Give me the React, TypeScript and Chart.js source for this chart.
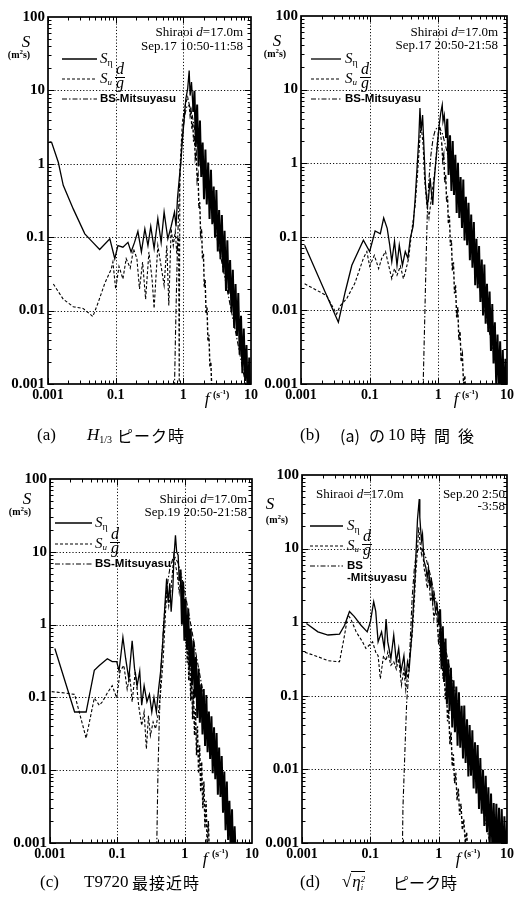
import React, { useEffect, useRef } from 'react';
import { Chart, registerables } from 'chart.js';
Chart.register(...registerables);

type P = [number, number];

// ---------- axes ----------
const X_MIN = 0.01, X_MAX = 10, Y_MIN = 0.001, Y_MAX = 100;
// tick texts as printed in the original figure (first decade is labelled "0.001")
const X_TICK_TEXT = ['0.001', '0.1', '1', '10'];
const Y_TICK_TEXT = ['0.001', '0.01', '0.1', '1', '10', '100'];
const X_GRID = [0.1, 1];
const Y_GRID = [0.01, 0.1, 1, 10];

// ---------- (a) Sep.17 10:50-11:58 ----------
const A_ETA: P[] = [[0.0105,2.0],[0.0113,1.97],[0.0142,1.05],[0.0168,0.51],[0.0236,0.243],[0.035,0.111],[0.046,0.085],[0.058,0.068],[0.082,0.095],[0.097,0.051],[0.108,0.077],[0.128,0.073],[0.152,0.085],[0.169,0.063],[0.19,0.085],[0.213,0.12],[0.24,0.063],[0.27,0.13],[0.30,0.077],[0.33,0.14],[0.37,0.07],[0.42,0.18],[0.47,0.085],[0.52,0.22],[0.59,0.095],[0.66,0.14],[0.74,0.22],[0.78,0.14],[0.82,0.34],[0.87,0.62],[0.92,1.05],[0.97,2.2],[1.03,4.1],[1.09,7.7],[1.16,10.6],[1.22,18.6],[1.26,8.5],[1.32,13],[1.40,5.1],
[1.46,9.9],[1.53,1.7],[1.60,6.4],[1.68,0.92],[1.76,3.9],[1.84,0.66],[1.93,1.95],[2.02,0.33],[2.12,1.56],[2.22,0.28],[2.33,1.04],[2.44,0.177],[2.56,0.83],[2.68,0.15],[2.81,0.49],[2.94,0.099],[3.08,0.44],[3.23,0.064],[3.38,0.234],[3.54,0.05],[3.71,0.2],[3.89,0.033],[4.07,0.122],[4.27,0.0185],[4.47,0.091],[4.68,0.017],[4.91,0.049],[5.14,0.0095],[5.39,0.036],[5.64,0.0058],[5.91,0.023],[6.19,0.0045],[6.49,0.0173],[6.80,0.0025],[7.12,0.0085],[7.46,0.0014],[7.82,0.0057],[8.19,0.0011],[8.58,0.0034],[8.99,0.00054],[9.42,0.0023],[9.87,0.0004]];
const A_SU: P[] = [[0.012,0.023],[0.0168,0.0143],[0.0236,0.0113],[0.033,0.0107],[0.046,0.0083],[0.055,0.0128],[0.069,0.0235],[0.086,0.0368],[0.091,0.046],[0.1,0.0197],[0.112,0.04],[0.128,0.027],[0.143,0.051],[0.164,0.038],[0.184,0.069],[0.206,0.051],[0.225,0.0197],[0.25,0.046],[0.277,0.0143],[0.31,0.063],[0.345,0.027],[0.37,0.0107],[0.42,0.077],[0.47,0.04],[0.52,0.022],[0.57,0.077],[0.61,0.0117],[0.66,0.13],[0.71,0.077],[0.76,0.12],[0.80,0.06],[0.85,0.1],[0.87,0.0009],[0.89,0.8],[0.93,1.8],[0.97,3.7],[1.06,6.2],[1.16,8.1],[1.22,6.5],[1.26,4.6],[1.30,5.2],[1.34,3.0],[1.38,3.6],[1.42,2.0],[1.46,2.4],[1.50,1.2],[1.55,1.4],[1.60,0.6],[1.65,0.7],[1.70,0.25],[1.75,0.3],[1.80,0.11],[1.86,0.13],[1.92,0.05],[1.98,0.06],[2.04,0.021],[2.10,0.026],[2.17,0.009],[2.24,0.011],[2.31,0.0038],[2.39,0.0047],[2.47,0.0017],[2.55,0.002],[2.64,0.0008],[2.74,0.0009],[2.85,0.0004]];
const A_BS: P[] = [[0.74,0.0009],[0.77,0.006],[0.80,0.03],[0.83,0.11],[0.86,0.3],[0.90,0.8],[0.95,1.8],[1.0,3.2],[1.06,4.8],[1.12,5.9],[1.18,6.3],[1.25,6.0],[1.35,4.6],[1.5,2.7],[1.75,1.3],[2.0,0.75],[2.5,0.28],[3.0,0.12],[4.0,0.032],[5.0,0.011],[6.0,0.0048],[7.0,0.0023],[8.0,0.0012],[9.0,0.0007]];

// ---------- (b) Sep.17 20:50-21:58 ----------
const B_ETA: P[] = [[0.0113,0.077],[0.035,0.0069],[0.044,0.0178],[0.055,0.041],[0.081,0.09],[0.1,0.063],[0.12,0.12],[0.143,0.11],[0.16,0.18],[0.18,0.13],[0.196,0.077],[0.21,0.046],[0.23,0.087],[0.25,0.041],[0.27,0.077],[0.30,0.041],[0.33,0.063],[0.36,0.051],[0.39,0.095],[0.43,0.14],[0.46,0.33],[0.49,0.86],[0.52,2.2],[0.54,5.6],[0.56,2.7],[0.59,4.5],[0.62,1.45],[0.65,0.51],[0.69,0.27],[0.72,0.33],[0.76,0.63],[0.79,0.41],[0.83,0.27],[0.86,0.51],[0.91,0.95],[0.97,1.8],[1.03,3.3],[1.09,5.0],[1.14,6.2],[1.17,3.7],[1.22,4.5],[1.29,2.2],
[1.35,4.0],[1.41,0.69],[1.48,2.4],[1.55,0.42],[1.62,2.0],[1.69,0.37],[1.77,1.3],[1.85,0.21],[1.93,1.01],[2.02,0.18],[2.11,0.65],[2.21,0.132],[2.31,0.6],[2.41,0.089],[2.52,0.35],[2.63,0.077],[2.75,0.29],[2.88,0.048],[3.01,0.2],[3.14,0.038],[3.29,0.159],[3.44,0.022],[3.59,0.094],[3.75,0.02],[3.92,0.075],[4.10,0.013],[4.29,0.049],[4.48,0.0085],[4.68,0.042],[4.89,0.0066],[5.11,0.023],[5.34,0.0051],[5.58,0.018],[5.84,0.0028],[6.10,0.0122],[6.37,0.0019],[6.66,0.0069],[6.96,0.001],[7.28,0.0047],[7.60,0.00085],[7.95,0.0038],[8.31,0.00057],[8.68,0.0029],[9.07,0.00048],[9.48,0.0022],[9.91,0.00042]];
const B_SU: P[] = [[0.0113,0.023],[0.0236,0.0159],[0.033,0.0089],[0.037,0.0115],[0.046,0.0143],[0.061,0.0235],[0.081,0.051],[0.091,0.063],[0.1,0.04],[0.117,0.056],[0.135,0.037],[0.15,0.051],[0.17,0.063],[0.19,0.04],[0.21,0.027],[0.23,0.037],[0.25,0.03],[0.28,0.04],[0.31,0.027],[0.33,0.033],[0.37,0.051],[0.41,0.12],[0.46,0.27],[0.50,0.77],[0.54,2.2],[0.56,3.3],[0.60,1.8],[0.63,0.63],[0.68,0.27],[0.73,0.18],[0.79,0.33],[0.84,0.51],[0.90,0.86],[0.95,1.6],[1.0,2.6],[1.05,3.2],[1.08,2.4],[1.12,1.9],[1.16,1.1],[1.20,1.3],[1.24,0.55],[1.28,0.7],[1.32,0.3],[1.36,0.36],[1.40,0.15],[1.45,0.19],[1.50,0.075],[1.55,0.09],[1.60,0.035],[1.66,0.045],[1.72,0.017],[1.78,0.022],[1.85,0.008],[1.92,0.011],[1.99,0.004],[2.07,0.0052],[2.15,0.002],[2.24,0.0025],[2.33,0.001],[2.43,0.0013],[2.53,0.0006]];
const B_BS: P[] = [[0.60,0.0009],[0.63,0.006],[0.66,0.04],[0.69,0.2],[0.73,0.6],[0.78,1.3],[0.84,2.2],[0.90,2.8],[0.97,3.1],[1.05,3.0],[1.15,2.5],[1.3,1.6],[1.5,0.9],[2.0,0.35],[3.0,0.07],[4.0,0.02],[5.0,0.008],[6.0,0.0035],[7.0,0.0018],[8.0,0.001],[9.0,0.0006]];

// ---------- (c) Sep.19 20:50-21:58 ----------
const C_ETA: P[] = [[0.0118,0.47],[0.0232,0.063],[0.0344,0.063],[0.0455,0.236],[0.054,0.275],[0.071,0.34],[0.084,0.31],[0.098,0.31],[0.106,0.23],[0.121,0.67],[0.133,0.34],[0.148,0.18],[0.166,0.6],[0.18,0.25],[0.197,0.145],[0.215,0.23],[0.23,0.078],[0.25,0.145],[0.275,0.087],[0.30,0.11],[0.325,0.063],[0.35,0.1],[0.38,0.063],[0.41,0.13],[0.44,0.23],[0.47,0.53],[0.51,1.9],[0.54,4.3],[0.57,2.0],[0.60,3.7],[0.63,1.5],[0.67,3.4],[0.69,7.9],[0.73,16.9],[0.76,10],[0.80,9],[0.83,4],
[0.87,5.7],[0.91,1.0],[0.95,3.9],[0.99,0.6],[1.03,2.26],[1.08,0.45],[1.13,1.66],[1.18,0.26],[1.23,0.88],[1.29,0.146],[1.35,0.61],[1.41,0.1],[1.47,0.36],[1.54,0.052],[1.61,0.25],[1.68,0.045],[1.76,0.152],[1.84,0.031],[1.92,0.13],[2.01,0.0216],[2.10,0.108],[2.19,0.0177],[2.29,0.064],[2.39,0.0143],[2.50,0.055],[2.61,0.0091],[2.73,0.039],[2.85,0.0075],[2.98,0.0325],[3.11,0.0046],[3.25,0.0205],[3.40,0.0043],[3.55,0.0156],[3.71,0.0026],[3.88,0.0096],[4.05,0.0015],[4.23,0.007],[4.42,0.0011],[4.62,0.0038],[4.83,0.00077],[5.05,0.0029],[5.28,0.00043],[5.52,0.0017],[5.8,0.0005]];
const C_SU: P[] = [[0.0106,0.12],[0.0166,0.115],[0.0232,0.11],[0.0344,0.0275],[0.0455,0.098],[0.054,0.078],[0.06,0.087],[0.071,0.115],[0.084,0.145],[0.098,0.098],[0.11,0.23],[0.125,0.275],[0.14,0.13],[0.153,0.2],[0.166,0.087],[0.185,0.23],[0.207,0.078],[0.23,0.041],[0.25,0.063],[0.27,0.0196],[0.29,0.056],[0.31,0.03],[0.34,0.046],[0.37,0.037],[0.41,0.063],[0.44,0.12],[0.48,0.34],[0.52,1.5],[0.55,3.1],[0.58,1.8],[0.62,2.8],[0.66,5.3],[0.69,9.0],[0.73,6.5],[0.77,5.3],[0.83,2.8],[0.87,4.2],[0.92,1.8],[0.97,2.2],
[1.00,1.8],[1.03,0.6],[1.06,1.2],[1.09,0.3],[1.12,0.7],[1.15,0.17],[1.19,0.4],[1.23,0.09],[1.27,0.22],[1.31,0.05],[1.35,0.13],[1.40,0.03],[1.45,0.07],[1.50,0.016],[1.55,0.04],[1.61,0.009],[1.67,0.022],[1.73,0.005],[1.79,0.013],[1.86,0.003],[1.93,0.007],[2.00,0.0016],[2.08,0.0038],[2.16,0.0009],[2.25,0.002],[2.35,0.0005],[2.45,0.001],[2.55,0.0004]];
const C_BS: P[] = [[0.385,0.0009],[0.40,0.008],[0.42,0.05],[0.45,0.3],[0.50,1.4],[0.55,3.4],[0.60,5.8],[0.66,7.8],[0.72,8.4],[0.80,7.0],[0.90,4.6],[1.0,2.9],[1.2,1.15],[1.5,0.36],[2.0,0.085],[2.5,0.03],[3.0,0.012],[4.0,0.003],[5.0,0.001],[5.5,0.0007]];

// ---------- (d) Sep.20 2:50-3:58 ----------
const D_ETA: P[] = [[0.0116,0.96],[0.0171,0.74],[0.024,0.67],[0.0354,0.69],[0.042,0.91],[0.0495,1.4],[0.058,1.2],[0.073,0.91],[0.09,0.74],[0.1,1.0],[0.112,1.9],[0.12,1.4],[0.13,0.54],[0.146,0.74],[0.16,0.44],[0.17,1.1],[0.18,0.54],[0.2,0.32],[0.22,0.67],[0.24,0.29],[0.26,0.44],[0.28,0.21],[0.31,0.35],[0.33,0.17],[0.35,0.29],[0.37,0.23],[0.39,0.44],[0.41,0.82],[0.43,1.9],[0.45,4.0],[0.47,10.3],[0.49,25],[0.52,47],[0.53,26.6],[0.56,12.7],[0.58,15.7],[0.61,6.8],[0.65,5.5],[0.68,4.0],[0.71,5.5],[0.75,2.9],[0.78,4.0],[0.82,1.9],[0.85,2.4],[0.90,1.4],[0.95,1.7],[1.0,0.91],
[1.05,1.5],[1.10,0.23],[1.15,0.88],[1.20,0.154],[1.26,0.6],[1.32,0.077],[1.38,0.31],[1.44,0.062],[1.51,0.24],[1.58,0.037],[1.65,0.163],[1.73,0.032],[1.81,0.134],[1.89,0.021],[1.98,0.112],[2.07,0.0197],[2.17,0.073],[2.27,0.0141],[2.37,0.074],[2.48,0.0122],[2.60,0.048],[2.72,0.008],[2.84,0.04],[2.97,0.0082],[3.11,0.034],[3.25,0.0055],[3.40,0.0234],[3.56,0.0047],[3.72,0.0215],[3.89,0.0029],[4.07,0.0143],[4.26,0.0025],[4.46,0.0099],[4.66,0.0017],[4.88,0.0082],[5.10,0.0014],[5.34,0.0057],[5.58,0.00085],[5.84,0.0047],[6.11,0.00077],[6.39,0.0035],[6.68,0.0006],[6.99,0.0034],[7.31,0.00055],[7.65,0.003],[8.00,0.00046],[8.37,0.0029],[8.76,0.00046],[9.16,0.0023],[9.58,0.0004],[10.0,0.002]];
const D_SU: P[] = [[0.011,0.39],[0.0171,0.34],[0.024,0.3],[0.0354,0.29],[0.042,0.67],[0.047,1.26],[0.052,1.1],[0.062,0.74],[0.077,0.54],[0.086,0.44],[0.097,0.49],[0.108,0.54],[0.12,0.39],[0.13,0.35],[0.14,0.17],[0.156,0.35],[0.17,0.3],[0.18,0.39],[0.2,0.26],[0.22,0.29],[0.24,0.23],[0.26,0.32],[0.285,0.14],[0.31,0.23],[0.33,0.12],[0.36,0.23],[0.38,0.35],[0.41,0.67],[0.44,1.9],[0.46,4.4],[0.49,9.3],[0.51,19.4],[0.53,12.7],[0.56,8.4],[0.58,10.3],[0.61,5.5],[0.65,4.0],[0.68,2.9],[0.72,4.0],[0.76,1.9],[0.80,2.4],[0.85,1.1],[0.90,1.5],
[0.95,1.1],[1.0,0.5],[1.04,0.8],[1.08,0.3],[1.12,0.45],[1.16,0.17],[1.20,0.25],[1.25,0.09],[1.30,0.13],[1.35,0.045],[1.40,0.065],[1.46,0.022],[1.52,0.032],[1.58,0.011],[1.64,0.016],[1.71,0.0065],[1.78,0.009],[1.86,0.0038],[1.94,0.0055],[2.03,0.0024],[2.12,0.0034],[2.22,0.0015],[2.33,0.0021],[2.45,0.001],[2.57,0.0014],[2.70,0.0006]];
const D_BS: P[] = [[0.295,0.0009],[0.30,0.003],[0.32,0.017],[0.34,0.08],[0.37,0.25],[0.39,0.8],[0.41,2.2],[0.44,5.3],[0.47,8.6],[0.52,10.3],[0.58,9.8],[0.65,7.5],[0.75,4.5],[0.85,2.6],[1.0,1.3],[1.2,0.55],[1.5,0.2],[2.0,0.065],[3.0,0.013],[4.0,0.0045],[5.0,0.0017],[5.5,0.0011],[6.0,0.0008]];

// ---------- presentation ----------
const SERIF = '"Liberation Serif","DejaVu Serif",serif';
const SANS = '"Liberation Sans","DejaVu Sans",sans-serif';
const CJK = '"Noto Sans CJK JP",sans-serif';
const W = 516, H = 909, YW = 46, XH = 26;

type Part = { t: string; f: string; dy?: number };
type Note = { parts: Part[]; x: number; y: number; align: 'left' | 'right' | 'center' };

const SITE = (x: number, y: number, align: 'left' | 'right'): Note => ({
  x, y, align,
  parts: [{ t: 'Shiraoi ', f: `13px ${SERIF}` }, { t: 'd', f: `italic 13px ${SERIF}` }, { t: '=17.0m', f: `13px ${SERIF}` }],
});
const TXT = (t: string, x: number, y: number, align: 'left' | 'right'): Note => ({ x, y, align, parts: [{ t, f: `13px ${SERIF}` }] });

const PANELS = [
  { area: { l: 48, t: 17, r: 251, b: 384 }, eta: A_ETA, su: A_SU, bs: A_BS, tail: 1.4, suTail: 1.22,
    notes: [SITE(243, 33, 'right'), TXT('Sep.17 10:50-11:58', 243, 47, 'right')],
    leg: { x0: 62, x1: 97, ys: [59, 79, 99], tx: 100, split: false },
    yt: { sx: 26, sy: 43, ux: 19, uy: 55 }, xt: { fx: 207, fy: 400, ux: 213, uy: 395 } },
  { area: { l: 301, t: 16, r: 507, b: 384 }, eta: B_ETA, su: B_SU, bs: B_BS, tail: 1.29, suTail: 1.12,
    notes: [SITE(498, 33, 'right'), TXT('Sep.17 20:50-21:58', 498, 46, 'right')],
    leg: { x0: 311, x1: 341, ys: [59, 79, 99], tx: 345, split: false },
    yt: { sx: 277, sy: 42, ux: 275, uy: 54 }, xt: { fx: 456, fy: 400, ux: 462, uy: 395 } },
  { area: { l: 50, t: 479, r: 252, b: 843 }, eta: C_ETA, su: C_SU, bs: C_BS, tail: 0.83, suTail: 0.97,
    notes: [SITE(247, 500, 'right'), TXT('Sep.19 20:50-21:58', 247, 513, 'right')],
    leg: { x0: 55, x1: 92, ys: [523, 544, 564], tx: 95, split: false },
    yt: { sx: 27, sy: 500, ux: 20, uy: 512 }, xt: { fx: 205, fy: 860, ux: 212, uy: 854 } },
  { area: { l: 302, t: 475, r: 507, b: 843 }, eta: D_ETA, su: D_SU, bs: D_BS, tail: 1.0, suTail: 0.95,
    notes: [SITE(316, 495, 'left'), TXT('Sep.20 2:50', 505, 495, 'right'), TXT('-3:58', 505, 507, 'right')],
    leg: { x0: 310, x1: 343, ys: [526, 546, 566], tx: 347, split: true },
    yt: { sx: 270, sy: 505, ux: 277, uy: 520 }, xt: { fx: 458, fy: 860, ux: 464, uy: 854 } },
];

function rich(ctx: CanvasRenderingContext2D, parts: Part[], x: number, y: number, align: string) {
  let w = 0;
  for (const p of parts) { ctx.font = p.f; w += ctx.measureText(p.t).width; }
  let cx = align === 'left' ? x : align === 'right' ? x - w : x - w / 2;
  ctx.textAlign = 'left';
  ctx.textBaseline = 'middle';
  ctx.fillStyle = '#000';
  for (const p of parts) { ctx.font = p.f; ctx.fillText(p.t, cx, y + (p.dy || 0)); cx += ctx.measureText(p.t).width; }
  return cx;
}

function seg(ctx: CanvasRenderingContext2D, x0: number, y0: number, x1: number, y1: number, dash: number[], w: number) {
  ctx.save(); ctx.setLineDash(dash); ctx.lineWidth = w; ctx.strokeStyle = '#000';
  ctx.beginPath(); ctx.moveTo(x0, y0); ctx.lineTo(x1, y1); ctx.stroke(); ctx.restore();
}

const DASH_SU = [3, 2];
const DASH_BS = [5, 2, 1.5, 2];

function isDecade(v: number) { const l = Math.log10(v); return Math.abs(l - Math.round(l)) < 1e-6; }

const framePlugin = {
  id: 'frame',
  beforeDatasetsDraw(chart: any) {
    const { ctx, chartArea: a, scales } = chart;
    ctx.save();
    ctx.strokeStyle = '#111'; ctx.lineWidth = 1; ctx.setLineDash([1.2, 2]);
    ctx.beginPath();
    for (const v of Y_GRID) { const p = Math.round(scales.y.getPixelForValue(v)) + 0.5; ctx.moveTo(a.left, p); ctx.lineTo(a.right, p); }
    for (const v of X_GRID) { const p = Math.round(scales.x.getPixelForValue(v)) + 0.5; ctx.moveTo(p, a.top); ctx.lineTo(p, a.bottom); }
    ctx.stroke();
    ctx.restore();
  },
  afterDatasetsDraw(chart: any) {
    const { ctx, chartArea: a, scales } = chart;
    ctx.save();
    ctx.strokeStyle = '#000'; ctx.setLineDash([]);
    ctx.lineWidth = 1;
    ctx.beginPath();
    for (let e = -3; e <= 1; e++) for (let k = 1; k <= 9; k++) {
      const v = k * Math.pow(10, e); if (v > Y_MAX) continue;
      const p = Math.round(scales.y.getPixelForValue(v)) + 0.5; const len = k === 1 ? 6 : 3.5;
      ctx.moveTo(a.left, p); ctx.lineTo(a.left + len, p); ctx.moveTo(a.right, p); ctx.lineTo(a.right - len, p);
    }
    for (let e = -2; e <= 0; e++) for (let k = 1; k <= 9; k++) {
      const v = k * Math.pow(10, e);
      const p = Math.round(scales.x.getPixelForValue(v)) + 0.5; const len = k === 1 ? 6 : 3.5;
      ctx.moveTo(p, a.bottom); ctx.lineTo(p, a.bottom - len); ctx.moveTo(p, a.top); ctx.lineTo(p, a.top + len);
    }
    ctx.stroke();
    ctx.lineWidth = 1.7;
    ctx.strokeRect(a.left, a.top, a.right - a.left, a.bottom - a.top);
    ctx.restore();
  },
};

function annotPlugin(p: typeof PANELS[number]) {
  return {
    id: 'annot',
    afterDraw(chart: any) {
      const ctx: CanvasRenderingContext2D = chart.ctx;
      ctx.save();
      for (const n of p.notes) rich(ctx, n.parts, n.x, n.y, n.align);
      const L = p.leg;
      seg(ctx, L.x0, L.ys[0], L.x1, L.ys[0], [], 1.3);
      seg(ctx, L.x0, L.ys[1], L.x1, L.ys[1], DASH_SU, 1.1);
      seg(ctx, L.x0, L.ys[2], L.x1, L.ys[2], DASH_BS, 1.1);
      rich(ctx, [{ t: 'S', f: `italic 15px ${SERIF}` }, { t: 'η', f: `10px ${SERIF}`, dy: 4 }], L.tx, L.ys[0], 'left');
      const ex = rich(ctx, [{ t: 'S', f: `italic 15px ${SERIF}` }, { t: 'u', f: `italic 9px ${SERIF}`, dy: 4 }], L.tx, L.ys[1], 'left');
      const fx = ex + 8;
      rich(ctx, [{ t: 'd', f: `italic 16px ${SERIF}` }], fx, L.ys[1] - 9, 'center');
      seg(ctx, fx - 5, L.ys[1] - 1.5, fx + 5, L.ys[1] - 1.5, [], 1);
      rich(ctx, [{ t: 'g', f: `italic 16px ${SERIF}` }], fx, L.ys[1] + 5, 'center');
      if (L.split) {
        rich(ctx, [{ t: 'BS', f: `bold 11.5px ${SANS}` }], L.tx, L.ys[2], 'left');
        rich(ctx, [{ t: '-Mitsuyasu', f: `bold 11.5px ${SANS}` }], L.tx, L.ys[2] + 12, 'left');
      } else {
        rich(ctx, [{ t: 'BS-Mitsuyasu', f: `bold 11.5px ${SANS}` }], L.tx, L.ys[2], 'left');
      }
      rich(ctx, [{ t: 'S', f: `italic 17px ${SERIF}` }], p.yt.sx, p.yt.sy, 'center');
      rich(ctx, [{ t: '(m', f: `bold 10px ${SERIF}` }, { t: '2', f: `bold 7px ${SERIF}`, dy: -3 }, { t: 's)', f: `bold 10px ${SERIF}` }], p.yt.ux, p.yt.uy, 'center');
      rich(ctx, [{ t: 'f', f: `italic 17px ${SERIF}` }], p.xt.fx, p.xt.fy, 'center');
      rich(ctx, [{ t: '(s', f: `bold 10px ${SERIF}` }, { t: '-1', f: `bold 7px ${SERIF}`, dy: -3 }, { t: ')', f: `bold 10px ${SERIF}` }], p.xt.ux, p.xt.uy, 'left');
      ctx.restore();
    },
  };
}

function PanelChart({ p }: { p: typeof PANELS[number] }) {
  const ref = useRef<HTMLCanvasElement>(null);
  useEffect(() => {
    if (!ref.current) return;
    const toXY = (arr: P[]) => arr.map(([x, y]) => ({ x, y }));
    const chart = new Chart(ref.current, {
      type: 'line',
      data: {
        datasets: [
          { data: toXY(p.bs), borderColor: '#000', borderWidth: 1.1, borderDash: DASH_BS, pointRadius: 0, fill: false, tension: 0 },
          { data: toXY(p.su), borderColor: '#000', borderWidth: 1.1, borderDash: DASH_SU, pointRadius: 0, fill: false, tension: 0,
            segment: { borderWidth: (c: any) => (c.p0.parsed.x >= p.suTail ? 1.4 : 1.1) } },
          { data: toXY(p.eta), borderColor: '#000', borderWidth: 1.3, pointRadius: 0, fill: false, tension: 0,
            segment: { borderWidth: (c: any) => (c.p0.parsed.x >= p.tail ? 2.0 : 1.3) } },
        ],
      },
      options: {
        responsive: false,
        maintainAspectRatio: false,
        animation: false,
        events: [],
        layout: { padding: { left: p.area.l - YW, top: p.area.t, right: W - p.area.r, bottom: H - p.area.b - XH } },
        plugins: { legend: { display: false }, tooltip: { enabled: false } },
        scales: {
          x: {
            type: 'logarithmic', min: X_MIN, max: X_MAX,
            grid: { display: false, drawTicks: false }, border: { display: false },
            ticks: {
              autoSkip: false, maxRotation: 0, padding: 3, color: '#000',
              font: { family: SERIF, size: 14, weight: 'bold' },
              callback: (v: any) => (isDecade(Number(v)) ? X_TICK_TEXT[Math.round(Math.log10(Number(v))) + 2] ?? '' : ''),
            },
            afterFit: (s: any) => { s.height = XH; s.paddingLeft = 0; s.paddingRight = 0; },
          },
          y: {
            type: 'logarithmic', min: Y_MIN, max: Y_MAX,
            grid: { display: false, drawTicks: false }, border: { display: false },
            ticks: {
              autoSkip: false, padding: 3, color: '#000',
              font: { family: SERIF, size: 15, weight: 'bold' },
              callback: (v: any) => (isDecade(Number(v)) ? Y_TICK_TEXT[Math.round(Math.log10(Number(v))) + 3] ?? '' : ''),
            },
            afterFit: (s: any) => { s.width = YW; s.paddingTop = 0; s.paddingBottom = 0; },
          },
        },
      } as any,
      plugins: [framePlugin, annotPlugin(p)],
    });
    return () => chart.destroy();
  }, [p]);
  return <canvas ref={ref} width={W} height={H} style={{ position: 'absolute', left: 0, top: 0, width: W, height: H }} />;
}

const capBase: React.CSSProperties = { position: 'absolute', font: `17px ${SERIF}`, lineHeight: '22px', whiteSpace: 'nowrap', color: '#000' };
const cjk: React.CSSProperties = { fontFamily: CJK, fontSize: 16 };

export default function App() {
  return (
    <div style={{ position: 'absolute', left: 0, top: 0, width: W, height: H, background: '#fff', overflow: 'hidden' }}>
      {PANELS.map((p, i) => <PanelChart key={i} p={p} />)}
      <span style={{ ...capBase, left: 37, top: 424 }}>(a)</span>
      <span style={{ ...capBase, left: 87, top: 424 }}><i>H</i><span style={{ fontSize: 10, position: 'relative', top: 3 }}>1/3</span></span>
      <span style={{ ...capBase, ...cjk, left: 117, top: 424, letterSpacing: 1 }}>ピーク時</span>

      <span style={{ ...capBase, left: 300, top: 424 }}>(b)</span>
      <span style={{ ...capBase, ...cjk, left: 340, top: 424 }}>(a)</span>
      <span style={{ ...capBase, ...cjk, left: 369, top: 424 }}>の</span>
      <span style={{ ...capBase, left: 388, top: 424 }}>10</span>
      <span style={{ ...capBase, ...cjk, left: 410, top: 424, letterSpacing: 8 }}>時間後</span>

      <span style={{ ...capBase, left: 40, top: 871 }}>(c)</span>
      <span style={{ ...capBase, left: 84, top: 871 }}>T9720</span>
      <span style={{ ...capBase, ...cjk, left: 132, top: 871, letterSpacing: 1 }}>最接近時</span>

      <span style={{ ...capBase, left: 300, top: 871 }}>(d)</span>
      <span style={{ ...capBase, left: 342, top: 871 }}>
        √<span style={{ borderTop: '1px solid #000', paddingLeft: 1 }}><i>η</i><span style={{ display: 'inline-block', verticalAlign: 'middle', fontSize: 9, lineHeight: '8px', fontStyle: 'italic' }}>2<br />i</span></span>
      </span>
      <span style={{ ...capBase, ...cjk, left: 393, top: 871 }}>ピーク時</span>
    </div>
  );
}
